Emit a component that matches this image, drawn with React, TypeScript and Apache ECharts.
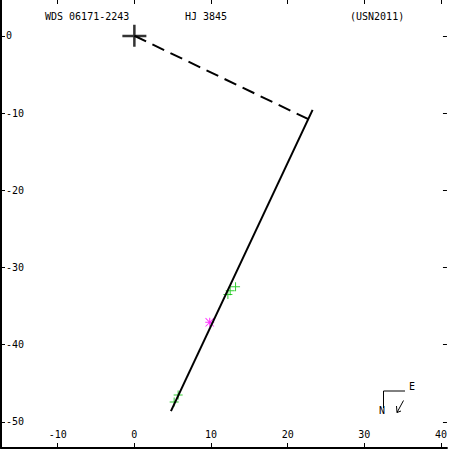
import React, { useEffect, useRef } from "react";
import * as echarts from "echarts";

const xTicks = [-10, 0, 10, 20, 30, 40];
const yTicks = [0, -10, -20, -30, -40, -50];
const orbitLine = [[23.25, -9.6], [4.77, -48.6]];
const nodeLine = [[0, 0], [22.7, -10.8]];
const primary = [[0, 0]];
const greenObs = [[13.2, -32.5], [12.5, -33.0], [12.2, -33.5], [5.71, -46.5], [5.19, -47.4]];
const magentaObs = [[9.83, -37.1]];
const titleLeft = "WDS 06171-2243";
const titleMid = "HJ 3845";
const titleRight = "(USN2011)";

const X_MIN = -17.4, X_MAX = 40.78, Y_MIN = -53.37, Y_MAX = 4.63;
const FONT = '"DejaVu Sans Mono", monospace';

export default function App() {
  const ref = useRef<HTMLDivElement>(null);
  useEffect(() => {
    const chart = echarts.init(ref.current!, null, { renderer: "svg" });
    const baseX = { type: "value", min: X_MIN, max: X_MAX, splitLine: { show: false } };
    const baseY = { type: "value", min: Y_MIN, max: Y_MAX, splitLine: { show: false } };
    const plus = "path://M0,4h9v1h-9z M4,0h1v9h-1z";
    const star = "path://M0,4h9v1h-9z M4,0h1v9h-1z M0.6,0L9,8.4 8.4,9 0,0.6z M8.4,0L9,0.6 0.6,9 0,8.4z";
    const cross = "path://M0,10h24v2.5h-24z M10.75,0h2.5v22h-2.5z";
    chart.setOption({
      animation: false,
      backgroundColor: "#fff",
      grid: { left: 1, right: 1, top: 0, bottom: 2 },
      xAxis: [
        {
          ...baseX, position: "bottom",
          axisLine: { show: true, onZero: false, lineStyle: { color: "#000", width: 2 } },
          axisTick: { show: true, inside: true, length: 5, customValues: xTicks, lineStyle: { color: "#000", width: 1 } },
          axisLabel: { show: true, inside: true, margin: 9, customValues: xTicks, color: "#000", fontFamily: FONT, fontSize: 10 },
        },
        {
          ...baseX, position: "top",
          axisLine: { show: false, onZero: false },
          axisTick: { show: true, inside: true, length: 4, customValues: xTicks, lineStyle: { color: "#000", width: 1 } },
          axisLabel: { show: false },
        },
      ],
      yAxis: [
        {
          ...baseY, position: "left",
          axisLine: { show: true, onZero: false, lineStyle: { color: "#000", width: 2 } },
          axisTick: { show: true, inside: true, length: 4, customValues: yTicks, lineStyle: { color: "#000", width: 1 } },
          axisLabel: { show: true, inside: true, margin: 5, customValues: yTicks, color: "#000", fontFamily: FONT, fontSize: 10 },
        },
        {
          ...baseY, position: "right",
          axisLine: { show: false, onZero: false },
          axisTick: { show: true, inside: true, length: 4, customValues: yTicks, lineStyle: { color: "#000", width: 1 } },
          axisLabel: { show: false },
        },
      ],
      series: [
        {
          type: "line", data: nodeLine, symbol: "none", silent: true,
          lineStyle: { color: "#000", width: 2, type: [13, 7] },
        },
        {
          type: "line", data: orbitLine, symbol: "none", silent: true,
          lineStyle: { color: "#000", width: 2 },
        },
        {
          type: "scatter", data: primary, symbol: cross, symbolSize: [24, 22],
          itemStyle: { color: "#000" },
        },
        {
          type: "scatter", data: greenObs, symbol: plus, symbolSize: 9,
          itemStyle: { color: "#00c000" },
        },
        {
          type: "scatter", data: magentaObs, symbol: star, symbolSize: 9,
          itemStyle: { color: "#ff00ff" },
        },
      ],
      graphic: [
        { type: "text", left: 45, top: 11, style: { text: titleLeft, font: `10px ${FONT}`, fill: "#000" } },
        { type: "text", left: 185, top: 11, style: { text: titleMid, font: `10px ${FONT}`, fill: "#000" } },
        { type: "text", left: 350, top: 11, style: { text: titleRight, font: `10px ${FONT}`, fill: "#000" } },
        { type: "line", shape: { x1: 383.5, y1: 391, x2: 383.5, y2: 408 }, style: { stroke: "#000", lineWidth: 1 } },
        { type: "line", shape: { x1: 383.5, y1: 391, x2: 405, y2: 391 }, style: { stroke: "#000", lineWidth: 1 } },
        { type: "text", left: 409, top: 381, style: { text: "E", font: `10px ${FONT}`, fill: "#000" } },
        { type: "text", left: 379, top: 405, style: { text: "N", font: `10px ${FONT}`, fill: "#000" } },
        { type: "line", shape: { x1: 403.5, y1: 400.5, x2: 397, y2: 412.5 }, style: { stroke: "#000", lineWidth: 1 } },
        { type: "polyline", shape: { points: [[396.5, 406], [397, 412.5], [401, 411]] }, style: { stroke: "#000", lineWidth: 1, fill: null } },
      ],
    });
    return () => chart.dispose();
  }, []);
  return <div ref={ref} style={{ position: "fixed", left: 0, top: 0, width: 450, height: 450 }} />;
}
